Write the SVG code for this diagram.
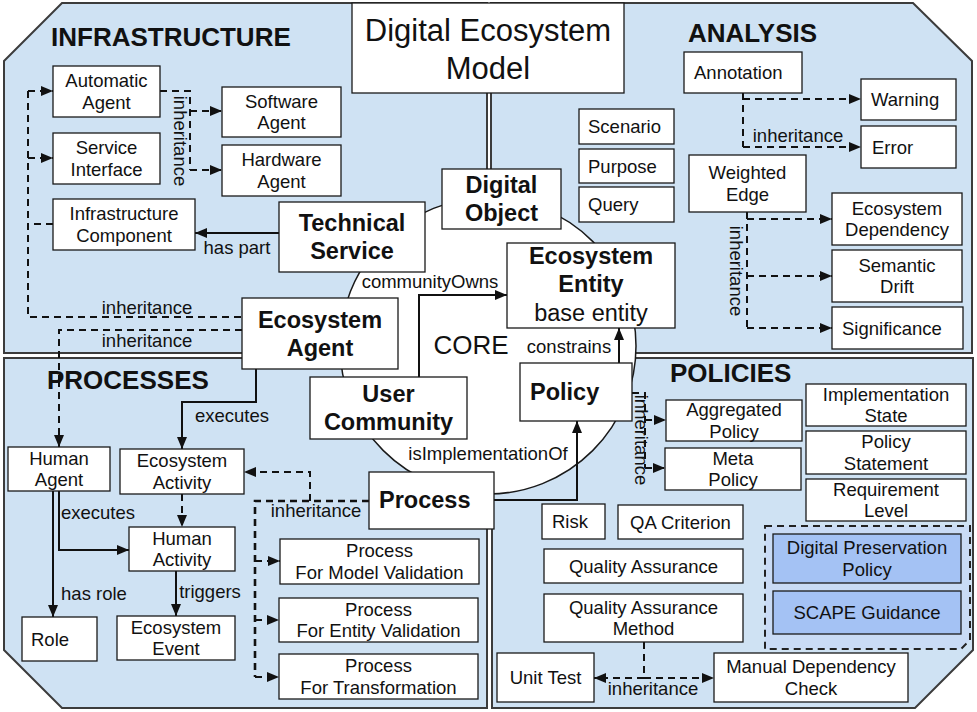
<svg xmlns="http://www.w3.org/2000/svg" width="977" height="712" viewBox="0 0 977 712">
<defs>
<style>
.region{fill:#cfe2f3;stroke:#3c3c3c;stroke-width:2}
.box{fill:#fff;stroke:#1a1a1a;stroke-width:1.3}
.dark{fill:#a4c2f4;stroke:#1a1a1a;stroke-width:1.3}
.t{font-family:"Liberation Sans",Arial,sans-serif;font-size:18.5px;fill:#111}
.m{text-anchor:middle}
.b{font-weight:bold;font-size:23.5px}
.rt{font-family:"Liberation Sans",Arial,sans-serif;font-weight:bold;font-size:26px;fill:#111}
.c{fill:none;stroke:#111;stroke-width:2}
.d{stroke-dasharray:7 5}
.w{stroke-width:2.6}
.a{marker-end:url(#arr)}
</style>
<marker id="arr" viewBox="0 0 12 10" refX="12" refY="5" markerWidth="12" markerHeight="10" markerUnits="userSpaceOnUse" orient="auto-start-reverse">
<path d="M0,0 L12,5 L0,10 Z" fill="#111"/>
</marker>
</defs>
<rect width="977" height="712" fill="#fff"/>

<g id="regions">
<polygon class="region" points="4,61 62,3 487,3 487,353 4,353"/>
<polygon class="region" points="491,3 913,3 972,61 972,353 491,353"/>
<polygon class="region" points="4,358 487,358 487,708 62,708 4,650"/>
<polygon class="region" points="492,358 973,358 973,650 915,708 492,708"/>
<text class="rt" x="51" y="46">INFRASTRUCTURE</text>
<text class="rt" x="688" y="42">ANALYSIS</text>
<text class="rt" x="47" y="389">PROCESSES</text>
<text class="rt" x="670" y="382">POLICIES</text>
</g>

<g id="core">
<circle cx="488" cy="346" r="148" fill="#fff" stroke="#1a1a1a" stroke-width="1.5"/>
<text class="t m" x="471" y="354" style="font-size:26px">CORE</text>
</g>

<g id="title">
<rect class="box" x="352" y="3" width="272" height="90"/>
<text class="t m" x="488" y="41" style="font-size:31px">Digital Ecosystem</text>
<text class="t m" x="488" y="79" style="font-size:31px">Model</text>
</g>

<g id="connectors">
<path class="c d" d="M28,91 V317 H242"/>
<path class="c d" d="M53,224 H28"/>
<path class="c d a" d="M28,91 H53"/>
<path class="c d a" d="M28,158 H53"/>
<path class="c d" d="M242,330 H59 V380"/>
<path class="c d a" d="M59,380 V447"/>
<path class="c d" d="M160,91 H190 V170"/>
<path class="c d a" d="M190,111 H222"/>
<path class="c d a" d="M190,170 H222"/>
<path class="c a" d="M279,233 H195"/>
<path class="c a" d="M419,377 V295 H507"/>
<path class="c a" d="M619,363 V328"/>
<path class="c a" d="M494,500 H577 V421"/>
<path class="c d" d="M743,93 V147"/>
<path class="c d a" d="M743,99 H861"/>
<path class="c d a" d="M743,147 H861"/>
<path class="c d" d="M747,212 V328"/>
<path class="c d a" d="M747,219 H832"/>
<path class="c d a" d="M747,276 H832"/>
<path class="c d a" d="M747,328 H832"/>
<path class="c a" d="M256,369 V402 H182 V449"/>
<path class="c a" d="M53,491 V617"/>
<path class="c a" d="M59,491 V550 H129"/>
<path class="c d a" d="M182,494 V527"/>
<path class="c a" d="M176,571 V616"/>
<path class="c d w" d="M369,501 H255 V677"/>
<path class="c d a" d="M255,561 H280"/>
<path class="c d a" d="M255,620 H279"/>
<path class="c d a" d="M255,677 H279"/>
<path class="c d a" d="M310,501 V472 H244"/>
<path class="c d" d="M632,393 H645 V468"/>
<path class="c d a" d="M645,420 H666"/>
<path class="c d a" d="M645,468 H665"/>
<path class="c d" d="M644,642 V678"/>
<path class="c d a" d="M644,678 H714"/>
<path class="c d a" d="M644,678 H594"/>
<text class="t m" x="147" y="314">inheritance</text>
<text class="t m" x="147" y="347">inheritance</text>
<text class="t m" x="180" y="141" dominant-baseline="central" transform="rotate(90 180 141)">inheritance</text>
<text class="t m" x="237" y="254">has part</text>
<text class="t m" x="430" y="288">communityOwns</text>
<text class="t m" x="569" y="353">constrains</text>
<text class="t m" x="488" y="460">isImplementationOf</text>
<text class="t m" x="798" y="142">inheritance</text>
<text class="t m" x="736" y="271" dominant-baseline="central" transform="rotate(90 736 271)">inheritance</text>
<text class="t m" x="232" y="422">executes</text>
<text class="t m" x="98" y="519">executes</text>
<text class="t m" x="94" y="600">has role</text>
<text class="t m" x="210" y="598">triggers</text>
<text class="t m" x="316" y="517">inheritance</text>
<text class="t m" x="641" y="440" dominant-baseline="central" transform="rotate(90 641 440)">inheritance</text>
<text class="t m" x="653" y="695">inheritance</text>
</g>

<g id="automatic-agent"><rect class="box" x="53" y="66" width="107" height="51"/><text class="t m" x="106.5" y="87.4">Automatic</text><text class="t m" x="106.5" y="108.9">Agent</text></g>
<g id="service-interface"><rect class="box" x="53" y="133" width="107" height="51"/><text class="t m" x="106.5" y="154.4">Service</text><text class="t m" x="106.5" y="175.9">Interface</text></g>
<g id="infrastructure-component"><rect class="box" x="53" y="199" width="142" height="51"/><text class="t m" x="124" y="220.4">Infrastructure</text><text class="t m" x="124" y="241.9">Component</text></g>
<g id="software-agent"><rect class="box" x="222" y="87" width="119" height="50"/><text class="t m" x="281.5" y="107.9">Software</text><text class="t m" x="281.5" y="129.4">Agent</text></g>
<g id="hardware-agent"><rect class="box" x="222" y="145" width="119" height="51"/><text class="t m" x="281.5" y="166.4">Hardware</text><text class="t m" x="281.5" y="187.9">Agent</text></g>
<g id="technical-service"><rect class="box" x="279" y="202" width="146" height="70"/><text class="t m b" x="352" y="231.4">Technical</text><text class="t m b" x="352" y="259.4">Service</text></g>
<g id="digital-object"><rect class="box" x="442" y="169" width="119" height="60"/><text class="t m b" x="501.5" y="193.4">Digital</text><text class="t m b" x="501.5" y="221.4">Object</text></g>
<g id="ecosystem-agent"><rect class="box" x="242" y="298" width="156" height="71"/><text class="t m b" x="320" y="327.9">Ecosystem</text><text class="t m b" x="320" y="355.9">Agent</text></g>
<g id="user-community"><rect class="box" x="310" y="377" width="157" height="62"/><text class="t m b" x="388.5" y="402.4">User</text><text class="t m b" x="388.5" y="430.4">Community</text></g>
<g id="ecosystem-entity"><rect class="box" x="507" y="243" width="168" height="85"/><text class="t m b" x="591" y="264">Ecosystem</text><text class="t m b" x="591" y="292">Entity</text><text class="t m" x="591" y="321" style="font-size:23.5px">base entity</text></g>
<g id="policy"><rect class="box" x="520" y="363" width="112" height="58"/><text class="t b" x="530" y="400">Policy</text></g>
<g id="process"><rect class="box" x="369" y="472" width="125" height="57"/><text class="t b" x="379" y="508">Process</text></g>

<g id="annotation"><rect class="box" x="684" y="52" width="118" height="41"/><text class="t" x="694" y="79">Annotation</text></g>
<g id="warning"><rect class="box" x="861" y="79" width="95" height="41"/><text class="t" x="871" y="106">Warning</text></g>
<g id="error"><rect class="box" x="861" y="126" width="95" height="42"/><text class="t" x="872" y="153.6">Error</text></g>
<g id="scenario"><rect class="box" x="579" y="109" width="95" height="35"/><text class="t" x="588" y="133">Scenario</text></g>
<g id="purpose"><rect class="box" x="579" y="149" width="95" height="34"/><text class="t" x="588" y="172.6">Purpose</text></g>
<g id="query"><rect class="box" x="579" y="187" width="95" height="35"/><text class="t" x="588" y="211">Query</text></g>
<g id="weighted-edge"><rect class="box" x="689" y="155" width="117" height="57"/><text class="t m" x="747.5" y="179.4">Weighted</text><text class="t m" x="747.5" y="201">Edge</text></g>
<g id="ecosystem-dependency"><rect class="box" x="832" y="193" width="130" height="52"/><text class="t m" x="897" y="214.9">Ecosystem</text><text class="t m" x="897" y="236.4">Dependency</text></g>
<g id="semantic-drift"><rect class="box" x="832" y="250" width="130" height="52"/><text class="t m" x="897" y="271.9">Semantic</text><text class="t m" x="897" y="293.4">Drift</text></g>
<g id="significance"><rect class="box" x="832" y="307" width="131" height="42"/><text class="t" x="842" y="334.6">Significance</text></g>

<g id="human-agent"><rect class="box" x="8" y="447" width="102" height="44"/><text class="t m" x="59" y="464.9">Human</text><text class="t m" x="59" y="486.4">Agent</text></g>
<g id="ecosystem-activity"><rect class="box" x="120" y="449" width="124" height="45"/><text class="t m" x="182" y="467.4">Ecosystem</text><text class="t m" x="182" y="488.9">Activity</text></g>
<g id="human-activity"><rect class="box" x="129" y="527" width="106" height="44"/><text class="t m" x="182" y="544.9">Human</text><text class="t m" x="182" y="566.4">Activity</text></g>
<g id="role"><rect class="box" x="22" y="617" width="75" height="44"/><text class="t" x="31" y="645.6">Role</text></g>
<g id="ecosystem-event"><rect class="box" x="117" y="616" width="118" height="44"/><text class="t m" x="176" y="633.9">Ecosystem</text><text class="t m" x="176" y="655.4">Event</text></g>
<g id="process-model-validation"><rect class="box" x="280" y="539" width="199" height="45"/><text class="t m" x="379.5" y="557.4">Process</text><text class="t m" x="379.5" y="578.9">For Model Validation</text></g>
<g id="process-entity-validation"><rect class="box" x="279" y="598" width="199" height="44"/><text class="t m" x="378.5" y="615.9">Process</text><text class="t m" x="378.5" y="637.4">For Entity Validation</text></g>
<g id="process-transformation"><rect class="box" x="279" y="654" width="199" height="45"/><text class="t m" x="378.5" y="672.4">Process</text><text class="t m" x="378.5" y="693.9">For Transformation</text></g>

<g id="aggregated-policy"><rect class="box" x="666" y="400" width="136" height="41"/><text class="t m" x="734" y="416.4">Aggregated</text><text class="t m" x="734" y="437.9">Policy</text></g>
<g id="meta-policy"><rect class="box" x="665" y="448" width="136" height="42"/><text class="t m" x="733" y="464.9">Meta</text><text class="t m" x="733" y="486.4">Policy</text></g>
<g id="implementation-state"><rect class="box" x="806" y="384" width="160" height="42"/><text class="t m" x="886" y="400.9">Implementation</text><text class="t m" x="886" y="422.4">State</text></g>
<g id="policy-statement"><rect class="box" x="806" y="431" width="160" height="43"/><text class="t m" x="886" y="448.4">Policy</text><text class="t m" x="886" y="469.9">Statement</text></g>
<g id="requirement-level"><rect class="box" x="806" y="479" width="160" height="42"/><text class="t m" x="886" y="495.9">Requirement</text><text class="t m" x="886" y="517.4">Level</text></g>
<g id="risk"><rect class="box" x="542" y="504" width="63" height="35"/><text class="t" x="552" y="528">Risk</text></g>
<g id="qa-criterion"><rect class="box" x="618" y="505" width="125" height="34"/><text class="t m" x="680.5" y="528.6">QA Criterion</text></g>
<g id="quality-assurance"><rect class="box" x="544" y="549" width="199" height="34"/><text class="t m" x="643.5" y="572.6">Quality Assurance</text></g>
<g id="quality-assurance-method"><rect class="box" x="544" y="594" width="199" height="48"/><text class="t m" x="643.5" y="613.9">Quality Assurance</text><text class="t m" x="643.5" y="635.4">Method</text></g>
<g id="unit-test"><rect class="box" x="497" y="653" width="97" height="49"/><text class="t m" x="545.5" y="684">Unit Test</text></g>
<g id="manual-dependency-check"><rect class="box" x="714" y="653" width="194" height="49"/><text class="t m" x="811" y="673.4">Manual Dependency</text><text class="t m" x="811" y="694.9">Check</text></g>
<g id="scape-group"><polygon points="765,526 970,526 970,640 961,649 765,649" fill="#c9dbf5" stroke="#222" stroke-width="2" stroke-dasharray="7 5"/></g>
<g id="digital-preservation-policy"><rect class="dark" x="773" y="534" width="188" height="49"/><text class="t m" x="867" y="554.4">Digital Preservation</text><text class="t m" x="867" y="575.9">Policy</text></g>
<g id="scape-guidance"><rect class="dark" x="773" y="591" width="188" height="43"/><text class="t m" x="867" y="619">SCAPE Guidance</text></g>
</svg>
